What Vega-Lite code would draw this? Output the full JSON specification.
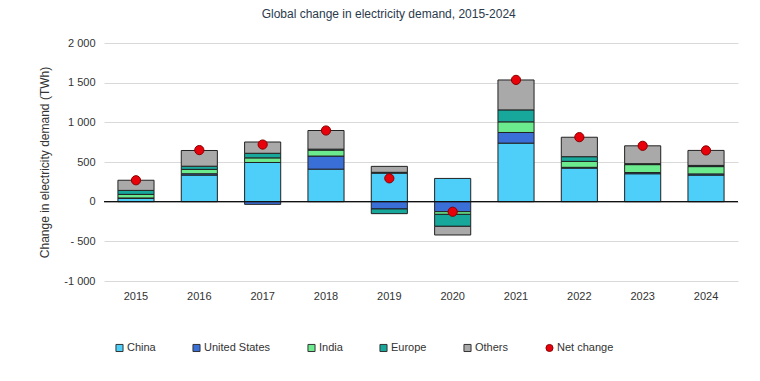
{
  "$schema": "https://vega.github.io/schema/vega-lite/v6.json",
  "width": 634,
  "height": 238,
  "padding": {"left": 38, "top": 8, "right": 10, "bottom": 10},
  "background": "white",
  "title": {
    "text": "Global change in electricity demand, 2015-2024",
    "fontSize": 12,
    "fontWeight": "normal",
    "font": "Liberation Sans",
    "color": "#2b3a4c",
    "anchor": "middle",
    "frame": "bounds",
    "offset": 16
  },
  "config": {
    "view": {"stroke": null},
    "font": "Liberation Sans",
    "axis": {"labelFont": "Liberation Sans", "titleFont": "Liberation Sans", "labelColor": "#333", "titleColor": "#333"}
  },
  "datasets": {
    "bars": [
      {"year": "2015", "series": "China", "ord": 1, "value": 42},
      {"year": "2015", "series": "United States", "ord": 2, "value": 5},
      {"year": "2015", "series": "India", "ord": 3, "value": 45},
      {"year": "2015", "series": "Europe", "ord": 4, "value": 50},
      {"year": "2015", "series": "Others", "ord": 5, "value": 128},
      {"year": "2016", "series": "China", "ord": 1, "value": 335},
      {"year": "2016", "series": "United States", "ord": 2, "value": 17},
      {"year": "2016", "series": "India", "ord": 3, "value": 55},
      {"year": "2016", "series": "Europe", "ord": 4, "value": 40},
      {"year": "2016", "series": "Others", "ord": 5, "value": 198},
      {"year": "2017", "series": "China", "ord": 1, "value": 494},
      {"year": "2017", "series": "United States", "ord": 2, "value": -34},
      {"year": "2017", "series": "India", "ord": 3, "value": 58},
      {"year": "2017", "series": "Europe", "ord": 4, "value": 58},
      {"year": "2017", "series": "Others", "ord": 5, "value": 142},
      {"year": "2018", "series": "China", "ord": 1, "value": 410},
      {"year": "2018", "series": "United States", "ord": 2, "value": 165},
      {"year": "2018", "series": "India", "ord": 3, "value": 75},
      {"year": "2018", "series": "Europe", "ord": 4, "value": 12},
      {"year": "2018", "series": "Others", "ord": 5, "value": 235},
      {"year": "2019", "series": "China", "ord": 1, "value": 360},
      {"year": "2019", "series": "United States", "ord": 2, "value": -92},
      {"year": "2019", "series": "India", "ord": 3, "value": 10},
      {"year": "2019", "series": "Europe", "ord": 4, "value": -59},
      {"year": "2019", "series": "Others", "ord": 5, "value": 75},
      {"year": "2020", "series": "China", "ord": 1, "value": 293},
      {"year": "2020", "series": "United States", "ord": 2, "value": -126},
      {"year": "2020", "series": "India", "ord": 3, "value": -34},
      {"year": "2020", "series": "Europe", "ord": 4, "value": -151},
      {"year": "2020", "series": "Others", "ord": 5, "value": -109},
      {"year": "2021", "series": "China", "ord": 1, "value": 738},
      {"year": "2021", "series": "United States", "ord": 2, "value": 134},
      {"year": "2021", "series": "India", "ord": 3, "value": 134},
      {"year": "2021", "series": "Europe", "ord": 4, "value": 151},
      {"year": "2021", "series": "Others", "ord": 5, "value": 377},
      {"year": "2022", "series": "China", "ord": 1, "value": 423},
      {"year": "2022", "series": "United States", "ord": 2, "value": 10},
      {"year": "2022", "series": "India", "ord": 3, "value": 75},
      {"year": "2022", "series": "Europe", "ord": 4, "value": 59},
      {"year": "2022", "series": "Others", "ord": 5, "value": 245},
      {"year": "2023", "series": "China", "ord": 1, "value": 352},
      {"year": "2023", "series": "United States", "ord": 2, "value": 15},
      {"year": "2023", "series": "India", "ord": 3, "value": 100},
      {"year": "2023", "series": "Europe", "ord": 4, "value": 12},
      {"year": "2023", "series": "Others", "ord": 5, "value": 225},
      {"year": "2024", "series": "China", "ord": 1, "value": 335},
      {"year": "2024", "series": "United States", "ord": 2, "value": 15},
      {"year": "2024", "series": "India", "ord": 3, "value": 92},
      {"year": "2024", "series": "Europe", "ord": 4, "value": 15},
      {"year": "2024", "series": "Others", "ord": 5, "value": 189}
    ],
    "net": [
      {"year": "2015", "series": "Net change", "value": 270},
      {"year": "2016", "series": "Net change", "value": 650},
      {"year": "2017", "series": "Net change", "value": 720},
      {"year": "2018", "series": "Net change", "value": 897},
      {"year": "2019", "series": "Net change", "value": 294},
      {"year": "2020", "series": "Net change", "value": -127},
      {"year": "2021", "series": "Net change", "value": 1535},
      {"year": "2022", "series": "Net change", "value": 813},
      {"year": "2023", "series": "Net change", "value": 704},
      {"year": "2024", "series": "Net change", "value": 646}
    ],
    "zero": [{"value": 0}]
  },
  "encoding": {
    "x": {
      "field": "year",
      "type": "nominal",
      "scale": {"paddingInner": 0.43, "paddingOuter": 0.22},
      "axis": {"title": null, "labelAngle": 0, "domain": false, "ticks": false, "labelPadding": 9, "labelFontSize": 11, "grid": false}
    },
    "y": {
      "field": "value",
      "type": "quantitative",
      "scale": {"domain": [-1000, 2000]},
      "axis": {
        "title": "Change in electricity demand (TWh)",
        "titleFontSize": 12,
        "titleFontWeight": "normal",
        "titlePadding": 12,
        "values": [-1000, -500, 0, 500, 1000, 1500, 2000],
        "labelOverlap": false,
        "labelExpr": "datum.value == 2000 ? '2 000' : datum.value == 1500 ? '1 500' : datum.value == 1000 ? '1 000' : datum.value == 500 ? '500' : datum.value == 0 ? '0' : datum.value == -500 ? '- 500' : '-1 000'",
        "labelFontSize": 11,
        "labelPadding": 9,
        "domain": false,
        "ticks": false,
        "gridColor": "#d9d9d9",
        "gridWidth": 1
      }
    }
  },
  "layer": [
    {
      "data": {"name": "bars"},
      "mark": {"type": "bar", "stroke": "#222", "strokeWidth": 1},
      "encoding": {
        "order": {"field": "ord", "type": "quantitative"},
        "color": {
          "field": "series",
          "type": "nominal",
          "scale": {
            "domain": ["China", "United States", "India", "Europe", "Others", "Net change"],
            "range": ["#4dcffa", "#3a6fd8", "#6ceb8e", "#17a79b", "#a9a9a9", "#e8000b"]
          },
          "legend": {
            "title": null,
            "orient": "none",
            "direction": "horizontal",
            "legendX": 10,
            "legendY": 299,
            "columnPadding": 34,
            "labelFontSize": 11,
            "labelColor": "#333",
            "labelFont": "Liberation Sans",
            "symbolSize": 50,
            "symbolStrokeColor": "#333",
            "symbolStrokeWidth": 1,
            "labelOffset": 2,
            "encode": {
              "symbols": {
                "update": {
                  "shape": {"signal": "datum.value === 'Net change' ? 'circle' : 'square'"},
                  "stroke": {"signal": "datum.value === 'Net change' ? '#8b0000' : '#333'"}
                }
              }
            }
          }
        }
      }
    },
    {
      "data": {"name": "zero"},
      "mark": {"type": "rule", "color": "#111", "strokeWidth": 1.2},
      "encoding": {"x": {"value": 0}, "x2": {"value": 634}}
    },
    {
      "data": {"name": "net"},
      "mark": {"type": "point", "filled": true, "shape": "circle", "size": 85, "opacity": 1, "stroke": "#8b0000", "strokeWidth": 1},
      "encoding": {
        "color": {"field": "series", "type": "nominal"}
      }
    }
  ]
}
